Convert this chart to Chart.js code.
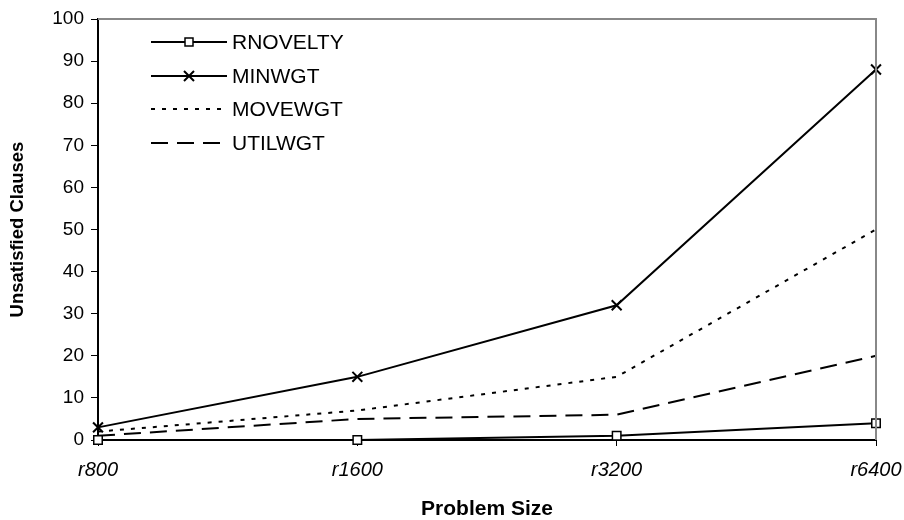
<!DOCTYPE html>
<html>
<head>
<meta charset="utf-8">
<script src="https://cdn.jsdelivr.net/npm/chart.js@4"></script>
<style>
    html, body { margin: 0; padding: 0; background: #fff; }
    #wrap { width: 904px; height: 520px; }
</style>
</head>
<body>
<div id="wrap"><canvas id="chart" width="904" height="520"></canvas></div>
<script>
const sizes = ['r800', 'r1600', 'r3200', 'r6400'];
const rnovelty = [0, 0, 1, 4];
const minwgt = [3, 15, 32, 88];
const movewgt = [2, 7, 15, 50];
const utilwgt = [1, 5, 6, 20];

const FONT = '"Liberation Sans", Arial, sans-serif';

// legend drawn inside the plot, top-left, with a sample of each line style
const insideLegend = {
    id: 'insideLegend',
    afterDraw(chart) {
        const ctx = chart.ctx;
        const area = chart.chartArea;
        ctx.save();
        // grey frame on top and right
        ctx.strokeStyle = '#888';
        ctx.lineWidth = 2;
        ctx.beginPath();
        ctx.moveTo(area.left, area.top);
        ctx.lineTo(area.right, area.top);
        ctx.lineTo(area.right, area.bottom);
        ctx.stroke();

        const x0 = 151, x1 = 227, rowY = [42, 76, 109, 143];
        chart.data.datasets.forEach((ds, i) => {
            const y = rowY[i];
            ctx.strokeStyle = '#000';
            ctx.lineWidth = 2;
            ctx.setLineDash(ds.borderDash || []);
            ctx.beginPath();
            ctx.moveTo(x0, y);
            ctx.lineTo(x1, y);
            ctx.stroke();
            ctx.setLineDash([]);
            const cx = (x0 + x1) / 2;
            if (ds.pointStyle === 'rect') {
                ctx.lineWidth = 1.5;
                ctx.fillStyle = '#fff';
                ctx.fillRect(cx - 4, y - 4, 8, 8);
                ctx.strokeRect(cx - 4, y - 4, 8, 8);
            } else if (ds.pointStyle === 'crossRot') {
                ctx.beginPath();
                ctx.moveTo(cx - 5, y - 5); ctx.lineTo(cx + 5, y + 5);
                ctx.moveTo(cx + 5, y - 5); ctx.lineTo(cx - 5, y + 5);
                ctx.stroke();
            }
            ctx.fillStyle = '#000';
            ctx.font = '21px ' + FONT;
            ctx.textBaseline = 'middle';
            ctx.textAlign = 'left';
            ctx.fillText(ds.label, x1 + 5, y + 1);
        });
        ctx.restore();
    }
};

const line = (label, data, extra) => Object.assign({
    label,
    data,
    borderColor: '#000',
    borderWidth: 2,
    backgroundColor: '#fff',
    pointRadius: 0,
    pointBorderColor: '#000',
    pointBorderWidth: 1.5,
    tension: 0,
    clip: false
}, extra);

new Chart(document.getElementById('chart'), {
    type: 'line',
    data: {
        labels: sizes,
        datasets: [
            line('RNOVELTY', rnovelty, { pointStyle: 'rect', pointRadius: 6 }),
            line('MINWGT', minwgt, { pointStyle: 'crossRot', pointRadius: 7, pointBorderWidth: 2 }),
            line('MOVEWGT', movewgt, { borderDash: [4, 7] }),
            line('UTILWGT', utilwgt, { borderDash: [17, 9] })
        ]
    },
    options: {
        responsive: false,
        animation: false,
        layout: { padding: { top: 19, right: 28, left: 0, bottom: 0 } },
        plugins: {
            legend: { display: false },
            tooltip: { enabled: false }
        },
        scales: {
            x: {
                offset: false,
                grid: {
                    display: true,
                    drawOnChartArea: false,
                    drawTicks: true,
                    tickLength: 6,
                    color: '#000'
                },
                border: { color: '#000', width: 2 },
                ticks: {
                    color: '#000',
                    padding: 12,
                    font: { family: FONT, size: 20, style: 'italic' }
                },
                title: {
                    display: true,
                    text: 'Problem Size',
                    color: '#000',
                    font: { family: FONT, size: 21, weight: 'bold', lineHeight: 1 },
                    padding: { top: 0, bottom: 0 }
                },
                afterFit: (s) => {
                    s.height = 80;
                    // let the end labels hang past the plot edges
                    s.paddingLeft = 0;
                    s.paddingRight = 0;
                }
            },
            y: {
                min: 0,
                max: 100,
                grid: {
                    display: true,
                    drawOnChartArea: false,
                    drawTicks: true,
                    tickLength: 7,
                    color: '#000'
                },
                border: { color: '#000', width: 2 },
                ticks: {
                    stepSize: 10,
                    color: '#000',
                    padding: 7,
                    font: { family: FONT, size: 19 }
                },
                title: {
                    display: true,
                    text: 'Unsatisfied Clauses',
                    color: '#000',
                    font: { family: FONT, size: 18.5, weight: 'bold', lineHeight: 1 },
                    padding: { top: 9, bottom: 0 }
                },
                afterFit: (s) => { s.width = 98; }
            }
        }
    },
    plugins: [insideLegend]
});
</script>
</body>
</html>
